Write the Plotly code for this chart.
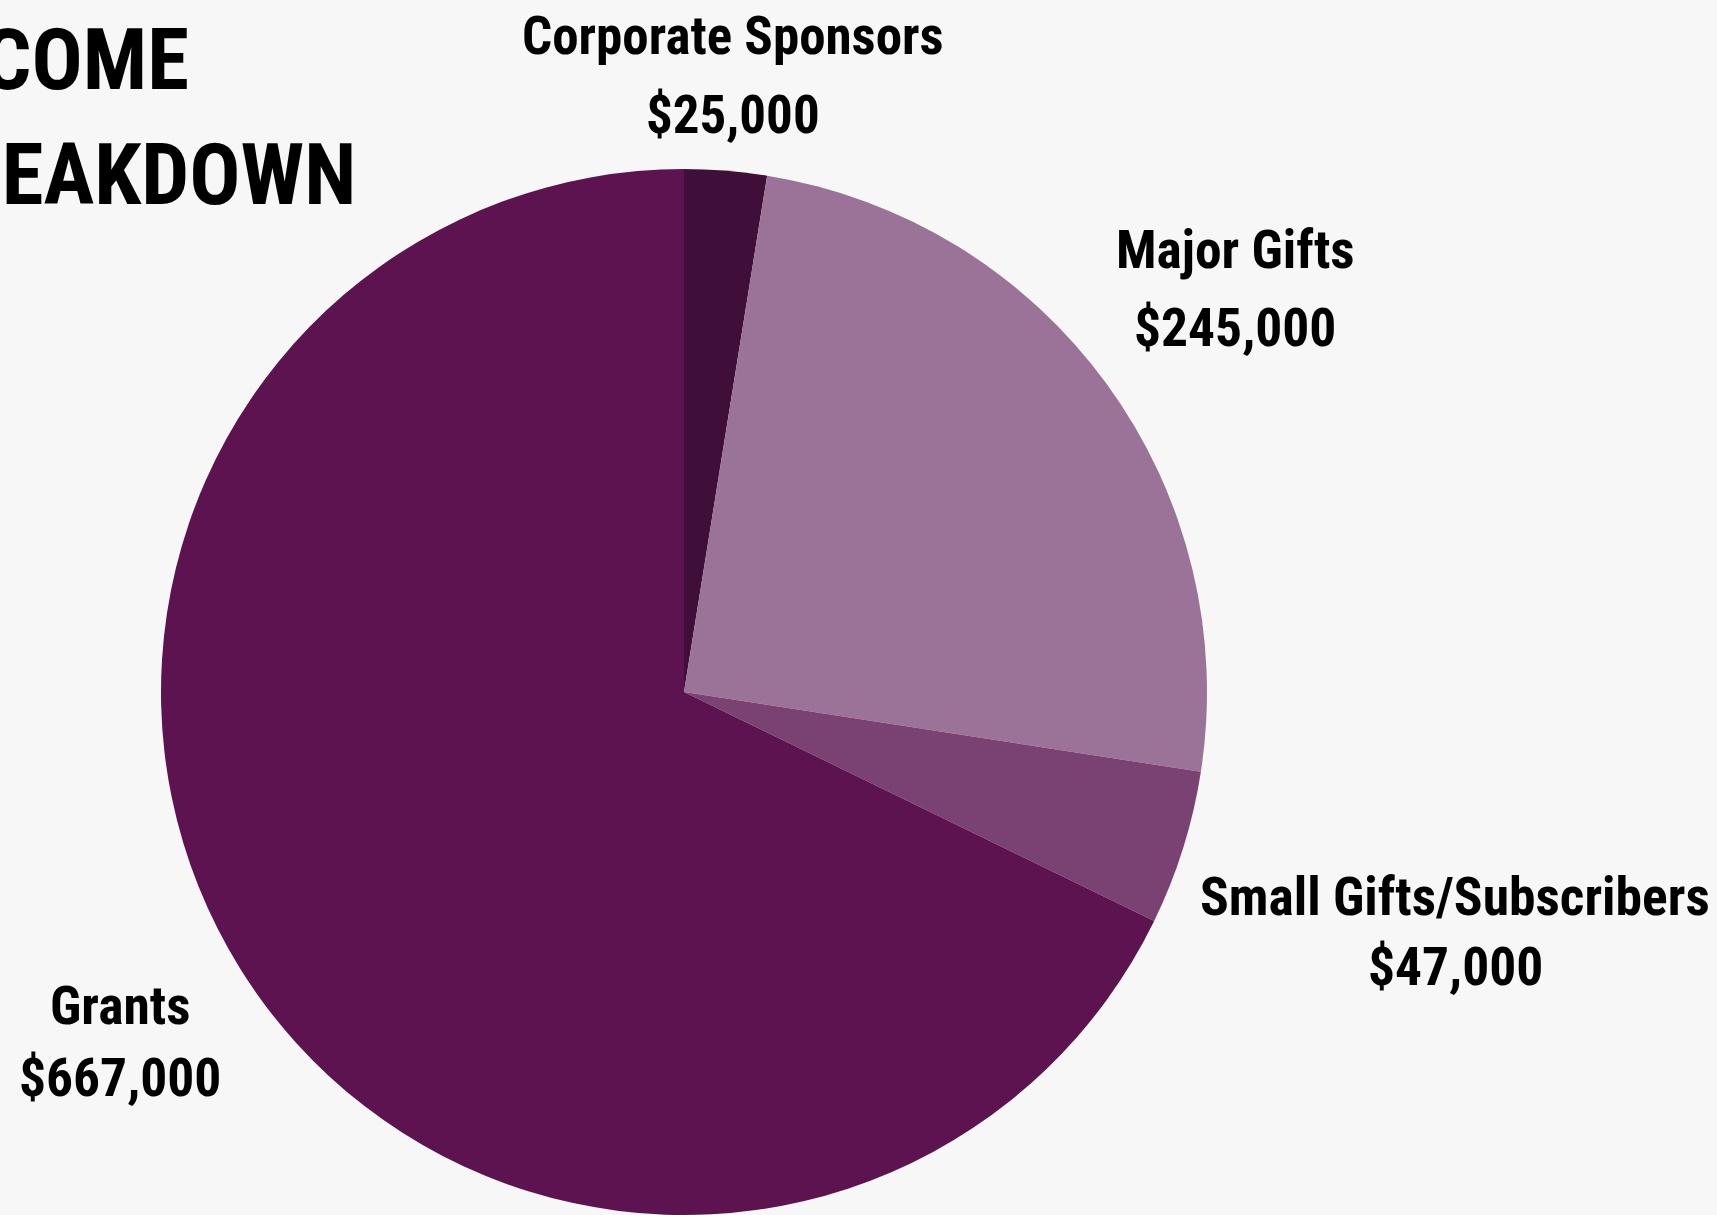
import plotly.graph_objects as go

# Income sources, in the order they run clockwise from 12 o'clock
sources = ["Corporate Sponsors", "Major Gifts", "Small Gifts/Subscribers", "Grants"]
amounts = [25000, 245000, 47000, 667000]
slice_colors = ["#3f0f3a", "#9c7398", "#7a4173", "#5c1350"]

W, H = 1717, 1215
FONT = "Roboto Condensed, Liberation Sans Narrow, DejaVu Sans Condensed, Roboto, sans-serif"

fig = go.Figure(
    go.Pie(
        labels=sources,
        values=amounts,
        sort=False,
        direction="clockwise",
        rotation=0,
        marker=dict(colors=slice_colors, line=dict(width=0)),
        textinfo="none",
        hoverinfo="label+value",
        showlegend=False,
        domain=dict(x=[161 / W, 1207 / W], y=[0, 1 - 169 / H]),
    )
)

# label placement (pixel centre of name line, value line, font size)
label_pos = {
    "Corporate Sponsors": (733, 36, 115, 53),
    "Major Gifts": (1235, 250, 328, 53.5),
    "Small Gifts/Subscribers": (1455, 896, 967, 53.5),
    "Grants": (120, 1005, 1077, 53.5),
}

annotations = []
for name, amt in zip(sources, amounts):
    x, y1, y2, size = label_pos[name]
    for text, y in ((name, y1), (f"${amt:,}", y2)):
        annotations.append(
            dict(
                text=f"<b>{text}</b>",
                x=x / W,
                y=1 - y / H,
                xref="paper",
                yref="paper",
                xanchor="center",
                yanchor="middle",
                showarrow=False,
                font=dict(family=FONT, size=size, color="#000000"),
            )
        )

# heading, right-aligned so it runs off the left edge
for text, xr, y in (("INCOME", 191, 60), ("BREAKDOWN", 358, 175)):
    annotations.append(
        dict(
            text=f"<b>{text}</b>",
            x=xr / W,
            y=1 - y / H,
            xref="paper",
            yref="paper",
            xanchor="right",
            yanchor="middle",
            showarrow=False,
            font=dict(family=FONT, size=85, color="#000000"),
        )
    )

fig.update_layout(
    width=W,
    height=H,
    margin=dict(l=0, r=0, t=0, b=0),
    paper_bgcolor="#f7f7f7",
    plot_bgcolor="#f7f7f7",
    annotations=annotations,
)

fig.write_html("out.html")
